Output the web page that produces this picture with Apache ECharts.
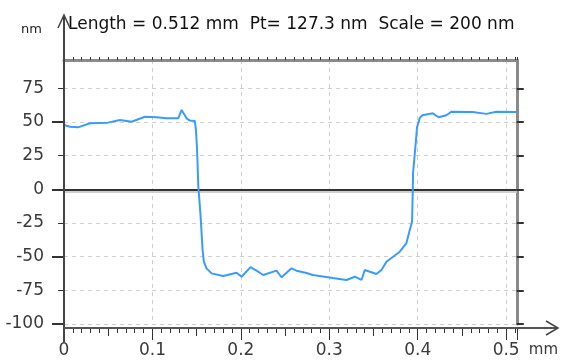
<!DOCTYPE html>
<html><head><meta charset="utf-8">
<script src="https://cdn.jsdelivr.net/npm/echarts@6/dist/echarts.min.js"></script>
<style>html,body{margin:0;padding:0;background:#fff}#c{width:561px;height:360px}</style>
</head><body><div id="c"></div>
<script>
// profile data (x in mm, y in nm)
const xVals = [0, 0.0068, 0.0158, 0.0294, 0.0497, 0.0633, 0.0765, 0.0915, 0.1047, 0.116, 0.1292, 0.133, 0.1386, 0.1424, 0.148, 0.1492, 0.1503, 0.151, 0.1518, 0.1545, 0.1567, 0.1582, 0.1612, 0.1669, 0.18, 0.1951, 0.2008, 0.211, 0.2177, 0.2252, 0.2403, 0.246, 0.2573, 0.2629, 0.2742, 0.2814, 0.304, 0.3194, 0.3288, 0.3364, 0.3401, 0.342, 0.3533, 0.359, 0.3646, 0.3718, 0.3797, 0.3872, 0.391, 0.3936, 0.3944, 0.3947, 0.3977, 0.3992, 0.4023, 0.4053, 0.417, 0.4237, 0.4324, 0.438, 0.4621, 0.4776, 0.4889, 0.512];
const yVals = [47.7, 46.5, 46, 49, 49.5, 51.5, 50.2, 53.9, 53.5, 52.7, 52.7, 58.9, 52.7, 51, 50.7, 44, 31.6, 20, 3, -20.3, -45.1, -53.8, -58.7, -62.4, -64.4, -61.9, -64.9, -57.8, -60.4, -63.6, -60.4, -65.3, -58.7, -60.4, -62.1, -63.6, -65.9, -67.3, -64.9, -67.3, -59.9, -61.1, -62.9, -59.9, -53.8, -50.3, -46.3, -39.9, -30.2, -24.1, -0.5, 12, 34, 46, 53, 55, 56.4, 53.5, 55, 57.6, 57.4, 56, 57.6, 57.4];
const yTickValues = [-100, -75, -50, -25, 0, 25, 50, 75];
const yMajorTicks = [-100, -50, 0, 50];
const xTickLabels = ['0', '0.1', '0.2', '0.3', '0.4', '0.5'];
const titleText = 'Length = 0.512 mm  Pt= 127.3 nm  Scale = 200 nm';
const yUnit = 'nm';
const xUnit = 'mm';
const xMax = 0.512, yMin = -100, yMax = 96;

const FONT = 'DejaVu Sans';
const chart = echarts.init(document.getElementById('c'), null, {renderer: 'canvas'});
const near = (a, b) => Math.abs(a - b) < 1e-6;
const xFmt = v => { const l = xTickLabels.find(s => near(parseFloat(s), v)); return l === undefined ? '' : l; };
const yFmt = v => yTickValues.some(t => near(t, v)) ? String(v) : '';

const baseX = {type: 'value', min: 0, max: xMax, splitLine: {show: false}, axisLabel: {show: false}, axisLine: {show: false, onZero: false}, axisTick: {show: false}};
const baseY = {type: 'value', min: yMin, max: yMax, splitLine: {show: false}, axisLabel: {show: false}, axisLine: {show: false, onZero: false}, axisTick: {show: false}};

chart.setOption({
  animation: false,
  backgroundColor: '#fff',
  title: [
    {text: titleText, left: 63, top: 11, textStyle: {fontFamily: FONT, fontSize: 17, fontWeight: 'normal', color: '#111'}},
    {text: yUnit, left: 16, top: 18, textStyle: {fontFamily: FONT, fontSize: 13, fontWeight: 'normal', color: '#222'}}
  ],
  grid: {left: 64, right: 44, top: 60, bottom: 36},
  xAxis: [
    Object.assign({}, baseX, {
      position: 'bottom', offset: 4, interval: 0.1,
      axisTick: {show: true, length: 12, lineStyle: {color: '#333', width: 1}},
      minorTick: {show: true, splitNumber: 10, length: 5, lineStyle: {color: '#333', width: 1}},
      axisLabel: {show: true, formatter: xFmt, margin: 14, fontFamily: FONT, fontSize: 17, color: '#3a3a3a'},
      splitLine: {show: true, lineStyle: {color: '#cfcfcf', width: 1, type: [4, 4]}},
      name: xUnit, nameLocation: 'end', nameGap: 12,
      nameTextStyle: {fontFamily: FONT, fontSize: 15, color: '#3a3a3a', align: 'left', verticalAlign: 'top', padding: [15, 0, 0, 0]}
    }),
    Object.assign({}, baseX, {
      position: 'bottom', offset: 4, interval: 0.05,
      axisTick: {show: true, length: 8, lineStyle: {color: '#333', width: 1}}
    }),
    Object.assign({}, baseX, {
      position: 'top', interval: 0.1,
      axisLine: {show: true, onZero: false, lineStyle: {color: '#8a8a8a', width: 3}},
      axisTick: {show: true, length: 3, lineStyle: {color: '#333', width: 1}},
      minorTick: {show: true, splitNumber: 10, length: 3, lineStyle: {color: '#333', width: 1}}
    })
  ],
  yAxis: [
    Object.assign({}, baseY, {
      position: 'left', interval: 25,
      axisTick: {show: true, length: 6, customValues: yTickValues, lineStyle: {color: '#333', width: 1}},
      axisLabel: {show: true, formatter: yFmt, margin: 20, fontFamily: FONT, fontSize: 17, color: '#3a3a3a'},
      splitLine: {show: true, lineStyle: {color: '#cfcfcf', width: 1, type: [4, 4]}}
    }),
    Object.assign({}, baseY, {
      position: 'left', interval: 50,
      axisTick: {show: true, length: 12, customValues: yMajorTicks, lineStyle: {color: '#333', width: 2}}
    }),
    Object.assign({}, baseY, {
      position: 'right', interval: 25,
      axisLine: {show: true, onZero: false, lineStyle: {color: '#8a8a8a', width: 3}},
      axisTick: {show: true, length: 7, customValues: yTickValues, lineStyle: {color: '#333', width: 2}}
    })
  ],
  series: [{
    type: 'line',
    xAxisIndex: 0, yAxisIndex: 0,
    data: xVals.map((x, i) => [x, yVals[i]]),
    showSymbol: false, symbol: 'none',
    lineStyle: {color: '#3a9bff', width: 2},
    z: 5,
    markLine: {
      silent: true, symbol: ['none', 'none'], label: {show: false},
      lineStyle: {color: '#333', width: 2, type: 'solid', shadowColor: '#d0d0d0', shadowOffsetY: 2, shadowBlur: 0},
      data: [{yAxis: 0}]
    }
  }]
});

// axis lines with arrows (decoration), placed from the grid's own scale
const pLB = chart.convertToPixel({xAxisIndex: 0, yAxisIndex: 0}, [0, yMin]);
const ax = Math.round(pLB[0]);
const ay = Math.round(pLB[1]) + 4;
chart.setOption({
  graphic: [
    {type: 'line', z: 50, shape: {x1: ax, y1: 15, x2: ax, y2: 342}, style: {stroke: '#444', lineWidth: 2}},
    {type: 'polyline', z: 50, shape: {points: [[ax - 6, 28], [ax, 15], [ax + 6, 28]]}, style: {stroke: '#444', lineWidth: 1.5, fill: null}},
    {type: 'line', z: 50, shape: {x1: ax, y1: ay, x2: 557, y2: ay}, style: {stroke: '#555', lineWidth: 2}},
    {type: 'polyline', z: 50, shape: {points: [[546, ay - 7], [558, ay], [546, ay + 7]]}, style: {stroke: '#444', lineWidth: 1.5, fill: null}}
  ]
});
</script>
</body></html>
